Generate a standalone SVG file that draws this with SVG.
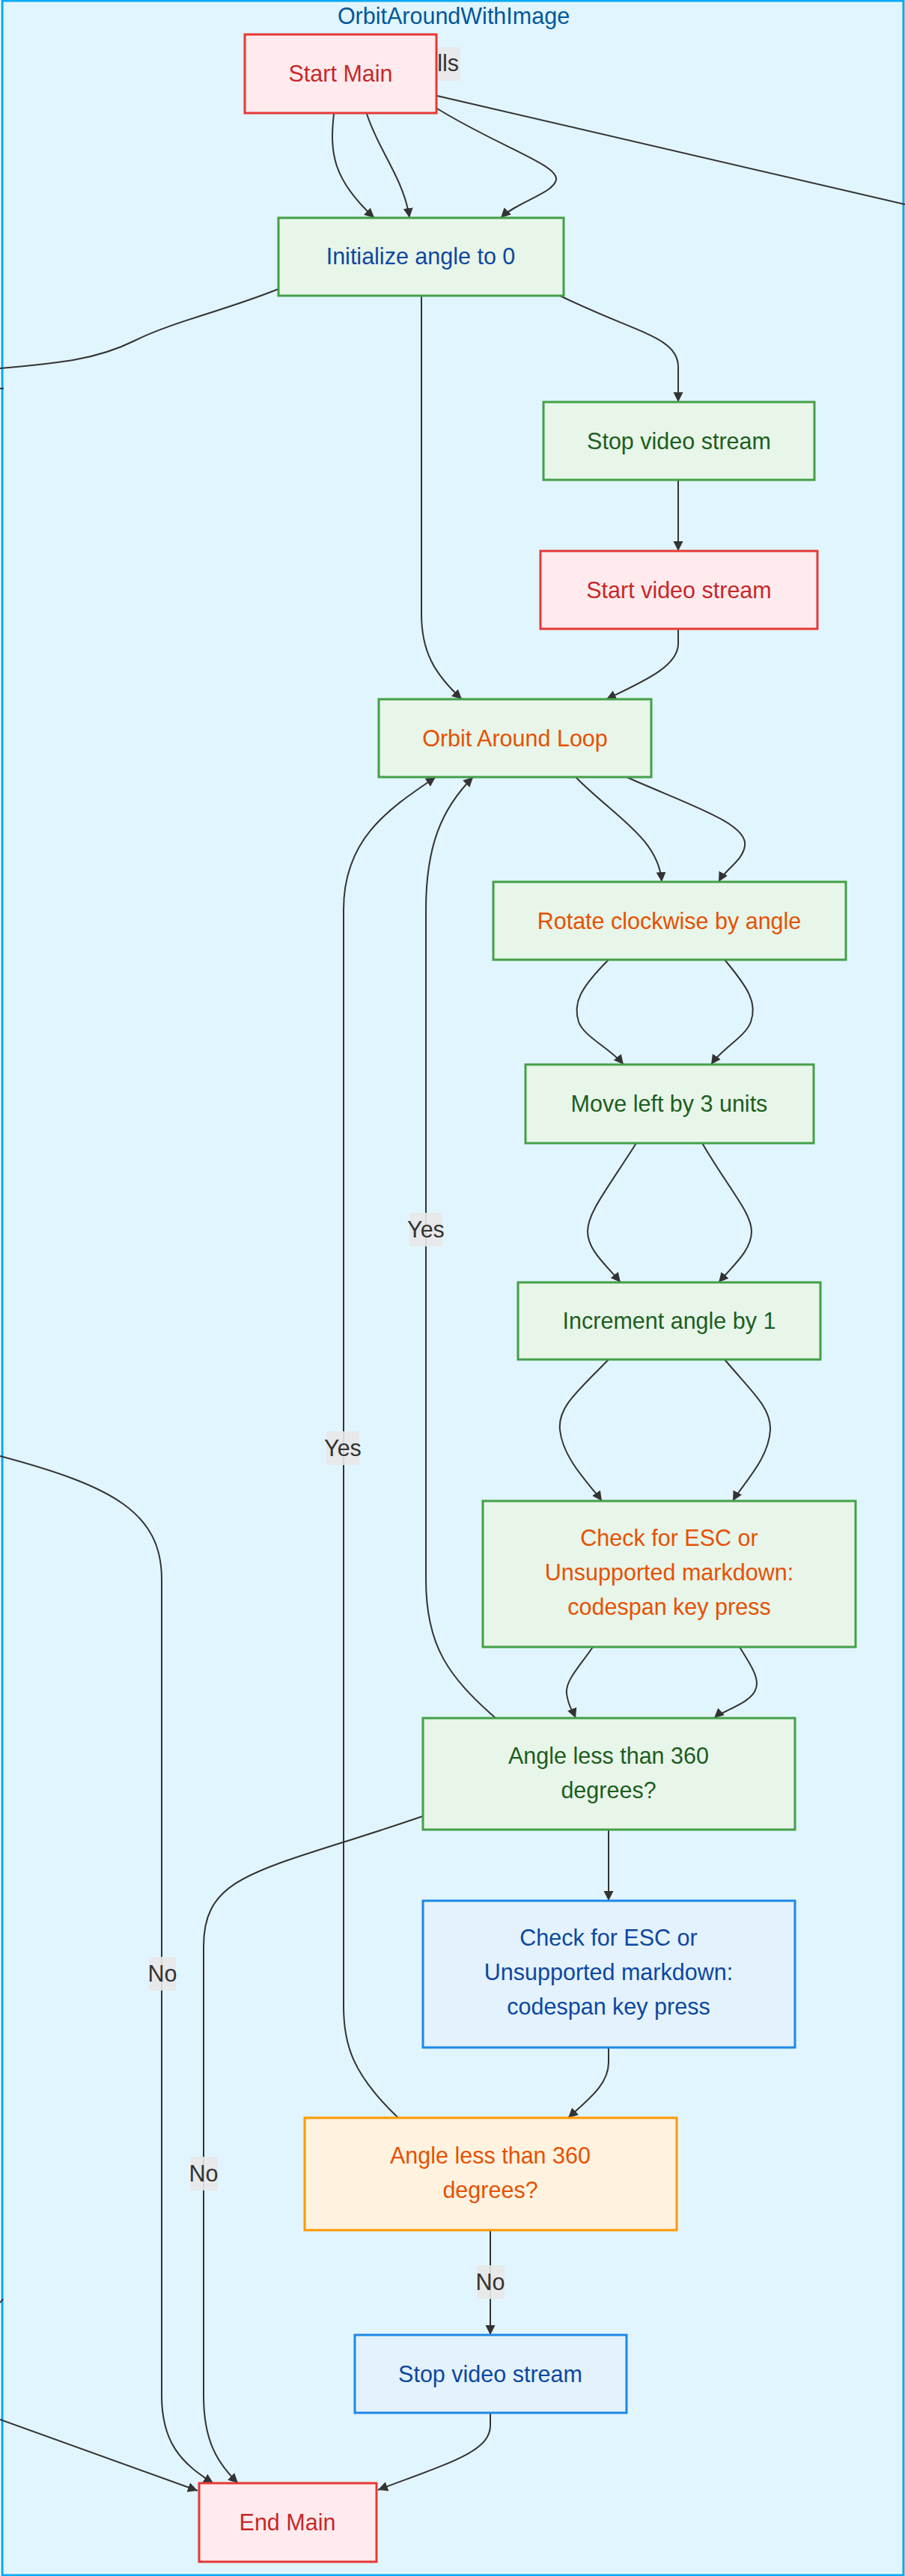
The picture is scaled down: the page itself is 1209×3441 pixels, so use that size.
<svg xmlns="http://www.w3.org/2000/svg" width="1209" height="3441" viewBox="0 0 1209 3441">
<style>
text{font-family:"Liberation Sans",Arial,sans-serif;font-size:30.5px;text-anchor:middle}
.edge{fill:none;stroke:#333333;stroke-width:2}
.green rect{fill:#e8f5e9;stroke:#43a047;stroke-width:3}
.red rect{fill:#ffebee;stroke:#e53935;stroke-width:3}
.blue rect{fill:#e3f2fd;stroke:#1e88e5;stroke-width:3}
.orange rect{fill:#fff3e0;stroke:#ff9800;stroke-width:3}
.tr{fill:#c62828}.tg{fill:#1b5e20}.tb{fill:#0d47a1}.to{fill:#e65100}
.lbl rect{fill:#e8e8e8;opacity:0.9}
.lbl text{fill:#333333}
</style>
<defs>
<marker id="arr" viewBox="0 0 10 10" refX="10" refY="5" markerUnits="userSpaceOnUse" markerWidth="13" markerHeight="14" orient="auto">
<path d="M0,0 L10,5 L0,10 z" fill="#333333"/>
</marker>
</defs>
<g id="cluster">
<rect x="3" y="1" width="1204" height="3439" fill="#e1f5fe" stroke="#03a9f4" stroke-width="3"/>
<text x="606" y="32" fill="#01579b">OrbitAroundWithImage</text>
</g>
<g id="connectors">
<path class="edge" d="M446,152 C440,205 445,240 500,291" marker-end="url(#arr)"/>
<path class="edge" d="M490,152 C505,200 540,240 547,291" marker-end="url(#arr)"/>
<path class="edge" d="M584,145 C665,195 746,220 743,240 C740,258 690,270 669,291" marker-end="url(#arr)"/>
<path class="edge" d="M584,128 L1209,273"/>
<path class="edge" d="M372,386 C300,415 230,430 180,455 C130,480 80,485 0,492"/>
<path class="edge" d="M0,519 L5,519"/>
<path class="edge" d="M563,395 L563,820 C563,870 580,900 617,934" marker-end="url(#arr)"/>
<path class="edge" d="M748,395 C850,445 906,450 906,490 L906,537" marker-end="url(#arr)"/>
<path class="edge" d="M906,641 L906,736" marker-end="url(#arr)"/>
<path class="edge" d="M906,840 L906,860 C906,890 860,910 810,934" marker-end="url(#arr)"/>
<path class="edge" d="M769,1038 C820,1090 880,1120 884,1178" marker-end="url(#arr)"/>
<path class="edge" d="M837,1038 C920,1075 1000,1100 995,1130 C992,1150 970,1160 960,1178" marker-end="url(#arr)"/>
<path class="edge" d="M813,1282 C775,1320 765,1340 773,1365 C780,1385 815,1400 833,1422" marker-end="url(#arr)"/>
<path class="edge" d="M968,1282 C1000,1320 1012,1340 1003,1365 C996,1385 965,1400 950,1422" marker-end="url(#arr)"/>
<path class="edge" d="M850,1527 C810,1590 785,1620 785,1645 C785,1670 810,1690 829,1713" marker-end="url(#arr)"/>
<path class="edge" d="M938,1527 C975,1590 1004,1620 1004,1645 C1004,1670 980,1690 960,1713" marker-end="url(#arr)"/>
<path class="edge" d="M813,1816 C770,1860 745,1880 748,1910 C752,1950 790,1985 804,2005" marker-end="url(#arr)"/>
<path class="edge" d="M968,1816 C1005,1860 1030,1880 1029,1910 C1027,1950 990,1985 979,2005" marker-end="url(#arr)"/>
<path class="edge" d="M792,2200 C775,2225 755,2245 757,2262 C759,2280 765,2285 769,2295" marker-end="url(#arr)"/>
<path class="edge" d="M988,2200 C1000,2220 1015,2240 1010,2255 C1005,2275 965,2285 954,2295" marker-end="url(#arr)"/>
<path class="edge" d="M662,2295 C600,2240 569,2200 569,2110 L569,1215 C569,1130 590,1080 632,1038" marker-end="url(#arr)"/>
<path class="edge" d="M813,2444 L813,2539" marker-end="url(#arr)"/>
<path class="edge" d="M565,2426 C350,2500 272,2500 272,2600 L272,3200 C272,3260 290,3290 318,3317" marker-end="url(#arr)"/>
<path class="edge" d="M0,1945 C150,1985 216,2020 216,2110 L216,3200 C216,3260 240,3290 285,3317" marker-end="url(#arr)"/>
<path class="edge" d="M532,2829 C470,2770 459,2730 459,2680 L459,1215 C459,1120 520,1080 582,1038" marker-end="url(#arr)"/>
<path class="edge" d="M813,2735 L813,2755 C813,2785 785,2805 759,2829" marker-end="url(#arr)"/>
<path class="edge" d="M655,2979 L655,3119" marker-end="url(#arr)"/>
<path class="edge" d="M655,3223 L655,3240 C655,3275 600,3290 505,3326" marker-end="url(#arr)"/>
<path class="edge" d="M0,3232 L264,3327" marker-end="url(#arr)"/>
<path class="edge" d="M0,3076 L4,3071"/>
</g>
<g id="edge-labels">
<g class="lbl"><rect x="583" y="63" width="32" height="45"/><text x="613" y="95" style="text-anchor:end">lls</text></g>
<g class="lbl"><rect x="547" y="1620" width="44" height="45"/><text x="569" y="1653">Yes</text></g>
<g class="lbl"><rect x="436" y="1912" width="44" height="45"/><text x="458" y="1945">Yes</text></g>
<g class="lbl"><rect x="199" y="2614" width="36" height="45"/><text x="217" y="2647">No</text></g>
<g class="lbl"><rect x="254" y="2881" width="37" height="45"/><text x="272" y="2914">No</text></g>
<g class="lbl"><rect x="637" y="3026" width="37" height="45"/><text x="655" y="3059">No</text></g>
</g>
<g id="node-start-main" class="red"><rect x="327" y="46" width="256" height="105"/><text class="tr" x="455" y="109">Start Main</text></g>
<g id="node-init-angle" class="green"><rect x="372" y="291" width="381" height="104"/><text class="tb" x="562" y="353">Initialize angle to 0</text></g>
<g id="node-stop-video-1" class="green"><rect x="726" y="537" width="362" height="104"/><text class="tg" x="907" y="600">Stop video stream</text></g>
<g id="node-start-video" class="red"><rect x="722" y="736" width="370" height="104"/><text class="tr" x="907" y="799">Start video stream</text></g>
<g id="node-orbit-loop" class="green"><rect x="506" y="934" width="364" height="104"/><text class="to" x="688" y="997">Orbit Around Loop</text></g>
<g id="node-rotate" class="green"><rect x="659" y="1178" width="471" height="104"/><text class="to" x="894" y="1241">Rotate clockwise by angle</text></g>
<g id="node-move-left" class="green"><rect x="702" y="1422" width="385" height="105"/><text class="tg" x="894" y="1485">Move left by 3 units</text></g>
<g id="node-increment" class="green"><rect x="692" y="1713" width="404" height="103"/><text class="tg" x="894" y="1775">Increment angle by 1</text></g>
<g id="node-check-esc-1" class="green"><rect x="645" y="2005" width="498" height="195"/><text class="to" x="894" y="2065">Check for ESC or</text><text class="to" x="894" y="2111">Unsupported markdown:</text><text class="to" x="894" y="2157">codespan key press</text></g>
<g id="node-angle-check-1" class="green"><rect x="565" y="2295" width="497" height="149"/><text class="tg" x="813" y="2356">Angle less than 360</text><text class="tg" x="813" y="2402">degrees?</text></g>
<g id="node-check-esc-2" class="blue"><rect x="565" y="2539" width="497" height="196"/><text class="tb" x="813" y="2599">Check for ESC or</text><text class="tb" x="813" y="2645">Unsupported markdown:</text><text class="tb" x="813" y="2691">codespan key press</text></g>
<g id="node-angle-check-2" class="orange"><rect x="407" y="2829" width="497" height="150"/><text class="to" x="655" y="2890">Angle less than 360</text><text class="to" x="655" y="2936">degrees?</text></g>
<g id="node-stop-video-2" class="blue"><rect x="474" y="3119" width="363" height="104"/><text class="tb" x="655" y="3182">Stop video stream</text></g>
<g id="node-end-main" class="red"><rect x="266" y="3317" width="237" height="105"/><text class="tr" x="384" y="3380">End Main</text></g>
</svg>
